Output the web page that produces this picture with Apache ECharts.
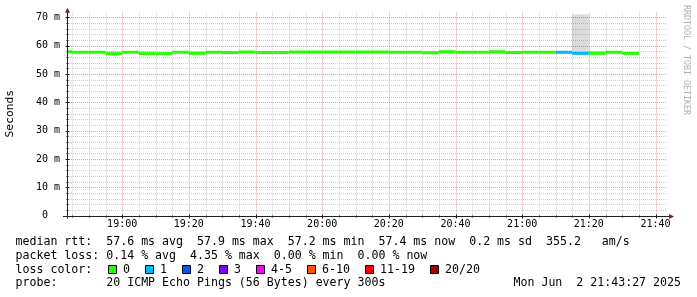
<!DOCTYPE html>
<html><head><meta charset="utf-8">
<script src="https://cdn.jsdelivr.net/npm/echarts@6/dist/echarts.min.js"></script>
<style>html,body{margin:0;padding:0;background:#fff}#c{width:697px;height:297px}</style>
</head><body><div id="c"></div>
<script>
// ---- data (5-minute buckets, labelled by bucket end time) ----
const bucketEnds = ['18:45','18:50','18:55','19:00','19:05','19:10','19:15','19:20','19:25','19:30',
                    '19:35','19:40','19:45','19:50','19:55','20:00','20:05','20:10','20:15','20:20',
                    '20:25','20:30','20:35','20:40','20:45','20:50','20:55','21:00','21:05','21:10',
                    '21:15','21:20','21:25','21:30','21:35'];
const medianMs  = [57.9, 57.7, 57.7, 57.2, 57.7, 57.2, 57.2, 57.7, 57.3, 57.7,
                   57.6, 57.8, 57.6, 57.6, 57.8, 57.8, 57.8, 57.8, 57.8, 57.8,
                   57.7, 57.7, 57.5, 57.9, 57.7, 57.7, 57.9, 57.6, 57.7, 57.7,
                   57.7, 57.3, 57.3, 57.7, 57.3];
const smokeLow  = [57.8, 57.6, 57.6, 57.1, 57.6, 57.1, 57.1, 57.6, 57.2, 57.6,
                   57.5, 57.7, 57.5, 57.5, 57.7, 57.7, 57.7, 57.7, 57.7, 57.7,
                   57.6, 57.6, 57.4, 57.2, 57.6, 57.6, 57.2, 57.5, 57.6, 57.6,
                   57.6, 57.2, 57.2, 57.6, 57.2];
const smokeHigh = [58.0, 57.8, 57.8, 58.0, 57.8, 58.0, 57.4, 57.8, 58.0, 57.8,
                   57.7, 57.9, 57.7, 57.7, 57.9, 57.9, 57.9, 57.9, 57.9, 57.9,
                   57.8, 57.8, 58.1, 58.0, 57.8, 57.8, 58.0, 58.2, 57.8, 57.8,
                   57.8, 71.1, 58.2, 58.1, 57.4];
const lossIndex = [0,0,0,0,0,0,0,0,0,0, 0,0,0,0,0,0,0,0,0,0, 0,0,0,0,0,0,0,0,0,0, 1,1,0,0,0];

const lossLabels = ['0','1','2','3','4-5','6-10','11-19','20/20'];
const lossColors = ['#26ff00','#00b8ff','#0059ff','#7e00ff','#ff00ff','#ff5500','#ff0000','#a00000'];

const xTickLabels = ['19:00','19:20','19:40','20:00','20:20','20:40','21:00','21:20','21:40'];
const yTickValues = [0, 10, 20, 30, 40, 50, 60, 70];
const yTickLabels = ['0  ','10 m','20 m','30 m','40 m','50 m','60 m','70 m'];

const statLines = [
  'median rtt:  57.6 ms avg  57.9 ms max  57.2 ms min  57.4 ms now  0.2 ms sd  355.2   am/s',
  'packet loss: 0.14 % avg  4.35 % max  0.00 % min  0.00 % now',
  'loss color:',
  'probe:       20 ICMP Echo Pings (56 Bytes) every 300s'
];
const dateText = 'Mon Jun  2 21:43:27 2025';
const watermark = 'RRDTOOL / TOBI OETIKER';
const yName = 'Seconds';

// ---- helpers / layout ----
const toMin = s => { const [h, m, sec] = s.split(':').map(Number); return (h - 18) * 60 + m + (sec || 0) / 60; };
const X_MIN = toMin('18:43:27'), X_MAX = toMin('21:43:27');
const STEP = 5;             // minutes per bucket / minor x grid
const Y_MINOR = 2;          // minor y grid step
const Y_MAX = 72;
const G = {left: 67, top: 11.8, width: 600, height: 203.7};
const MONO = '"DejaVu Sans Mono", monospace';
const AXIS_COL = '#1f1f1f', ARROW_COL = '#801f1f';
const MINOR_COL = '#cfcfcf', MAJOR_COL = '#e6a0a0';

const medianData = bucketEnds.map((t, i) => [toMin(t), medianMs[i], lossIndex[i]]);
const smokeData = bucketEnds.map((t, i) => [toMin(t), smokeLow[i], smokeHigh[i]]);
const xMajor = xTickLabels.map(toMin);
const xLabelSet = new Set(xTickLabels);

// grid line list: [orientation (0 vertical / 1 horizontal), value, major?]
const gridData = [];
for (let v = Math.ceil(X_MIN / STEP) * STEP; v < X_MAX; v += STEP) {
  const major = xMajor.some(m => Math.abs(m - v) < 1e-6);
  gridData.push([0, v, major ? 1 : 0]);
}
for (let v = 0; v < Y_MAX; v += Y_MINOR) {
  const major = yTickValues.indexOf(v) >= 0;
  gridData.push([1, v, major ? 1 : 0]);
}
gridData.sort((a, b) => a[2] - b[2]);

const fmtTime = v => {
  const tot = Math.round(v);
  const h = 18 + Math.floor(tot / 60), m = tot % 60;
  return String(h).padStart(2, '0') + ':' + String(m).padStart(2, '0');
};

const chart = echarts.init(document.getElementById('c'), null, {renderer: 'canvas'});

// text graphics
const graphics = [];
const lineY = [241.5, 255.5, 269.5, 283];
statLines.forEach((s, i) => graphics.push({
  type: 'text', x: 15.5, y: lineY[i], silent: true,
  style: {text: s, fill: '#000', font: '11.6px ' + MONO, align: 'left', verticalAlign: 'middle',
          textAlign: 'left', textVerticalAlign: 'middle'}
}));
graphics.push({
  type: 'text', x: 681, y: lineY[3], silent: true,
  style: {text: dateText, fill: '#000', font: '11.6px ' + MONO, align: 'right', verticalAlign: 'middle',
          textAlign: 'right', textVerticalAlign: 'middle'}
});
// loss color legend
let lx = 108;
lossLabels.forEach((lab, i) => {
  graphics.push({type: 'rect', silent: true, shape: {x: lx + 0.5, y: 265.5, width: 8, height: 8},
    style: {fill: lossColors[i], stroke: '#000', lineWidth: 1}});
  graphics.push({type: 'text', x: lx + 15, y: lineY[2], silent: true,
    style: {text: lab, fill: '#000', font: '11.6px ' + MONO, align: 'left', verticalAlign: 'middle',
            textAlign: 'left', textVerticalAlign: 'middle'}});
  lx += 30 + 7 * lab.length;
});
// watermark
graphics.push({
  type: 'text', x: 686, y: 5, rotation: -Math.PI / 2, silent: true,
  style: {text: watermark, fill: '#b0b0b0', font: '8.3px ' + MONO, align: 'left', verticalAlign: 'middle',
          textAlign: 'left', textVerticalAlign: 'middle'}
});
// axis lines and arrows
const x0 = G.left + 0.5, yb = Math.round(G.top + G.height) + 0.5;
graphics.push({type: 'line', silent: true, z: 99,
  shape: {x1: x0, y1: yb + 2, x2: x0, y2: G.top - 1}, style: {stroke: AXIS_COL, lineWidth: 1}});
graphics.push({type: 'line', silent: true, z: 99,
  shape: {x1: G.left - 4, y1: yb, x2: G.left + G.width + 2, y2: yb}, style: {stroke: AXIS_COL, lineWidth: 1}});
graphics.push({type: 'polygon', silent: true, z: 100,
  shape: {points: [[x0 - 2.5, G.top + 1], [x0, G.top - 4], [x0 + 2.5, G.top + 1]]}, style: {fill: ARROW_COL}});
graphics.push({type: 'polygon', silent: true, z: 100,
  shape: {points: [[G.left + G.width + 2, yb - 2.5], [G.left + G.width + 7, yb], [G.left + G.width + 2, yb + 2.5]]}, style: {fill: ARROW_COL}});

const option = {
  animation: false,
  backgroundColor: '#ffffff',
  grid: {left: G.left, top: G.top, width: G.width, height: G.height, containLabel: false, outerBoundsMode: 'none'},
  xAxis: {
    type: 'value', min: X_MIN, max: X_MAX, minInterval: 20, maxInterval: 20, splitNumber: 9,
    axisLine: {show: false},
    axisTick: {show: false},
    splitLine: {show: false},
    axisLabel: {
      margin: 4, color: '#000', fontFamily: MONO, fontSize: 10, showMinLabel: false, showMaxLabel: false,
      formatter: v => { const s = fmtTime(v); return xLabelSet.has(s) ? s : ''; }
    }
  },
  yAxis: {
    type: 'value', min: 0, max: Y_MAX, interval: 10,
    name: yName, nameLocation: 'middle', nameGap: 51, nameRotate: 90,
    nameTextStyle: {color: '#000', fontFamily: MONO, fontSize: 11.3},
    axisLine: {show: false},
    axisTick: {show: false},
    splitLine: {show: false},
    axisLabel: {
      margin: 7, color: '#000', fontFamily: MONO, fontSize: 10, showMaxLabel: false,
      formatter: v => { const k = yTickValues.indexOf(v); return k >= 0 ? yTickLabels[k] : ''; }
    }
  },
  series: [
    {
      type: 'custom', name: 'grid', data: gridData, z: 1, silent: true,
      encode: {x: 1, y: 1},
      renderItem(params, api) {
        const o = api.value(0), v = api.value(1), major = api.value(2);
        const style = {stroke: major ? MAJOR_COL : MINOR_COL, lineWidth: 1, lineDash: [1, 1]};
        const tickStyle = {stroke: AXIS_COL, lineWidth: 1};
        const children = [];
        if (o === 0) {
          const a = api.coord([v, 0]), b = api.coord([v, Y_MAX]);
          const x = Math.round(a[0]) + 0.5;
          children.push({type: 'line', shape: {x1: x, y1: a[1], x2: x, y2: b[1]}, style});
          children.push({type: 'line', shape: {x1: x, y1: yb - (major ? 2 : 1), x2: x, y2: yb + (major ? 2 : 1)}, style: tickStyle, z2: 10});
        } else {
          const a = api.coord([X_MIN, v]), b = api.coord([X_MAX, v]);
          const y = Math.round(a[1]) + 0.5;
          if (v > 0) children.push({type: 'line', shape: {x1: a[0], y1: y, x2: b[0], y2: y}, style});
          children.push({type: 'line', shape: {x1: x0 - (major ? 2 : 1), y1: y, x2: x0 + (major ? 2 : 1), y2: y}, style: tickStyle, z2: 10});
        }
        return {type: 'group', children};
      }
    },
    {
      type: 'custom', name: 'smoke', data: smokeData, encode: {x: 0, y: [1, 2]}, z: 2, silent: true,
      renderItem(params, api) {
        const tEnd = api.value(0), lo = api.value(1), hi = api.value(2);
        const tStart = Math.max(tEnd - STEP, X_MIN);
        const a = api.coord([tStart, hi]), b = api.coord([tEnd, lo]);
        return {type: 'rect', shape: {x: a[0], y: a[1], width: b[0] - a[0], height: b[1] - a[1]},
                style: {fill: 'rgba(0,0,0,0.14)'}};
      }
    },
    {
      type: 'custom', name: 'median', data: medianData, encode: {x: 0, y: 1}, z: 3, silent: true,
      renderItem(params, api) {
        const tEnd = api.value(0), m = api.value(1), li = api.value(2);
        const tStart = Math.max(tEnd - STEP, X_MIN);
        const a = api.coord([tStart, m]), b = api.coord([tEnd, m]);
        return {type: 'rect', shape: {x: a[0], y: a[1] - 1.5, width: b[0] - a[0], height: 3},
                style: {fill: lossColors[li]}};
      }
    }
  ],
  graphic: graphics
};
chart.setOption(option);
</script>
</body></html>
